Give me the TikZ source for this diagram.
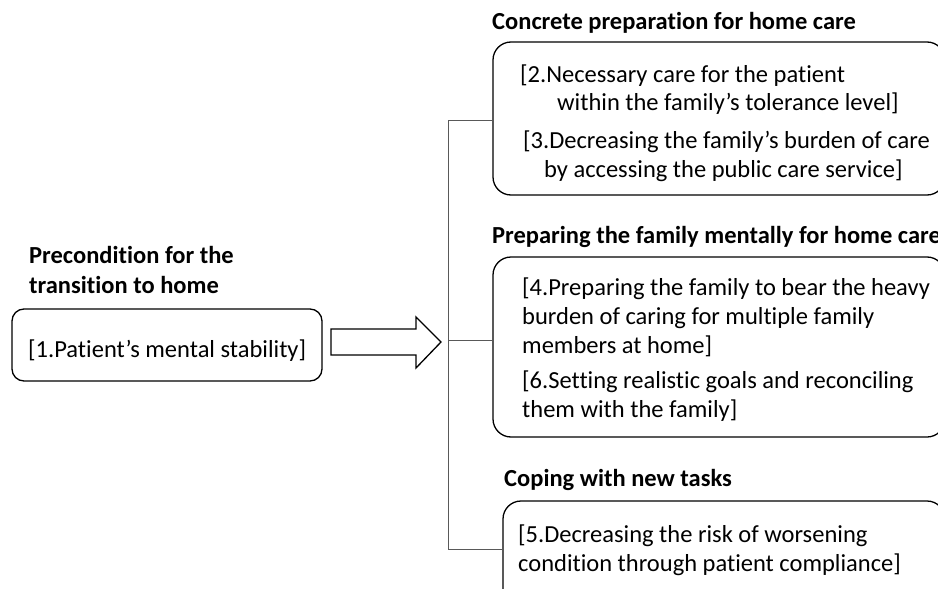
\documentclass[tikz,border=0pt]{standalone}
\usepackage{fontspec}
\setmainfont{Carlito}[Ligatures=NoCommon]
\begin{document}
\begin{tikzpicture}[x=1pt,y=-1pt,
  box/.style={draw=black,line width=1.3pt,rounded corners=18pt},
  head/.style={anchor=base west,inner sep=0pt,font=\fontsize{24.5}{29}\selectfont\bfseries},
  body/.style={anchor=base west,inner sep=0pt,font=\fontsize{24.5}{29.5}\selectfont},
  conn/.style={draw=black!65,line width=0.9pt}]
\useasboundingbox (0,0) rectangle (938,589);
% headings
\node[head] (h1) at (29,263) {Precondition for the};
\node[head] (h1b) at (29,293) {transition to home};
\node[head] (h2) at (492,29) {Concrete preparation for home care};
\node[head] (h3) at (492,243) {Preparing the family mentally for home care};
\node[head] (h4) at (504,486) {Coping with new tasks};
% boxes
\draw[box,rounded corners=12pt] (12,309) rectangle (322,381);
\node[body] (t1) at (28,357) {[1.Patient’s mental stability]};
\coordinate (b1) at (322,345);
\draw[box] (493,42) rectangle (945,195);
\draw[box] (493,257) rectangle (945,437);
\draw[box] (503,501) rectangle (945,620);
\coordinate (b2) at (493,120);
\coordinate (b3) at (493,340);
\coordinate (b4) at (503,549);
% box texts
\node[body] (t2a) at (520,82) {[2.Necessary care for the patient};
\node[body] (t2b) at (557,110) {within the family’s tolerance level]};
\node[body] (t3a) at (523,148) {[3.Decreasing the family’s burden of care};
\node[body] (t3b) at (544,177) {by accessing the public care service]};
\node[body] (t4a) at (522,295) {[4.Preparing the family to bear the heavy};
\node[body] (t4b) at (522,324) {burden of caring for multiple family};
\node[body] (t4c) at (522,353) {members at home]};
\node[body] (t6a) at (522,388) {[6.Setting realistic goals and reconciling};
\node[body] (t6b) at (522,417) {them with the family]};
\node[body] (t5a) at (518,542) {[5.Decreasing the risk of worsening};
\node[body] (t5b) at (518,571) {condition through patient compliance]};
% block arrow
\draw[line width=1.3pt,fill=white,line join=miter]
  (331,329) -- (416,329) -- (416,317) -- (441,342) -- (416,368) -- (416,355) -- (331,355) -- cycle;
% connectors
\coordinate (top) at (448,120);
\coordinate (mid) at (448,340);
\coordinate (bot) at (448,549);
\draw[conn] (top) -- (bot);
\draw[conn] (top) -- (b2);
\draw[conn] (mid) -- (b3);
\draw[conn] (bot) -- (b4);
\end{tikzpicture}
\end{document}
